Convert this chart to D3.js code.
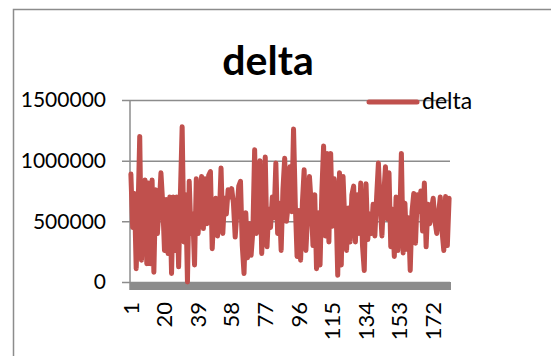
<!DOCTYPE html>
<html>
<head>
<meta charset="utf-8">
<script src="https://cdn.jsdelivr.net/npm/d3@7"></script>
<style>
  body { margin: 0; background: #fff; }
  text { font-family: Lato, "Liberation Sans", sans-serif; fill: #000; }
</style>
</head>
<body>
<script>
// values (thousands)
const deltaK = [
  890, 450, 730, 110, 560, 1200, 180, 620, 840, 150,
  815, 150, 840, 80, 760, 400, 620, 900, 650, 260,
  680, 235, 700, 70, 700, 260, 700, 125, 720, 1280,
  330, 720, 0, 830, 400, 560, 140, 850, 400, 600,
  870, 440, 850, 480, 880, 910, 275, 600, 690, 380,
  520, 940, 400, 690, 560, 760, 700, 770, 650, 370,
  580, 790, 830, 300, 70, 570, 200, 480, 220, 420,
  1090, 400, 700, 1000, 235, 600, 1030, 290, 600, 450,
  700, 530, 980, 400, 650, 260, 760, 1020, 500, 640,
  950, 580, 1260, 640, 210, 590, 180, 650, 925, 260,
  560, 870, 640, 300, 720, 110, 570, 140, 740, 1120,
  380, 1060, 330, 1060, 460, 850, 650, 55, 900, 140,
  870, 500, 260, 610, 330, 720, 790, 330, 720, 400,
  815, 300, 95, 810, 350, 560, 400, 640, 380, 700,
  980, 640, 380, 710, 950, 520, 900, 290, 600, 210,
  700, 260, 450, 1060, 240, 650, 270, 530, 95, 580,
  730, 320, 720, 580, 750, 420, 815, 290, 640, 480,
  600, 690, 500, 400, 560, 700, 420, 260, 705, 300,
  690
];
const categories = deltaK.map((d, i) => i + 1);
const yTicks = [0, 500000, 1000000, 1500000];
const xTickLabels = [1, 20, 39, 58, 77, 96, 115, 134, 153, 172];
const seriesName = "delta";

const data = categories.map((c, i) => ({cat: c, value: deltaK[i] * 1000}));

const width = 551, height = 356;
const svg = d3.select("body").append("svg").attr("width", width).attr("height", height);

const plot = {left: 130, right: 450, top: 100, bottom: 282};
const grey = "#8c8c8c";
const red = "#c0504d";

// outer chart frame (left and top edge visible)
svg.append("path")
   .attr("d", `M13.5,${height} V9.5 H${width}`)
   .attr("fill", "none")
   .attr("stroke", grey)
   .attr("stroke-width", 1.5);

// scales
const xScale = d3.scaleBand().domain(categories).range([plot.left, plot.right]);
const yScale = d3.scaleLinear().domain([0, 1500000]).range([plot.bottom, plot.top]);

// gridlines + y labels
const yAxis = d3.axisLeft(yScale)
                .tickValues(yTicks)
                .tickSize(-(plot.right - plot.left) - 8)
                .tickPadding(16)
                .tickFormat(d3.format("d"));
const gy = svg.append("g")
              .attr("transform", `translate(${plot.right}, 0)`)
              .call(yAxis);
gy.select(".domain").remove();
gy.selectAll(".tick line")
  .attr("x1", 0)
  .attr("x2", -(plot.right - plot.left) - 8)
  .attr("stroke", grey)
  .attr("stroke-width", 1.5);
gy.selectAll(".tick text")
  .attr("x", -(plot.right - plot.left) - 24)
  .attr("font-size", 21)
  .attr("font-family", "Lato, sans-serif")
  .attr("fill", "#000");

// vertical axis line
svg.append("line")
   .attr("x1", plot.left).attr("x2", plot.left)
   .attr("y1", plot.top).attr("y2", plot.bottom + 8)
   .attr("stroke", grey)
   .attr("stroke-width", 1.5);

// thick category axis band
svg.append("rect")
   .attr("x", plot.left)
   .attr("y", plot.bottom)
   .attr("width", plot.right - plot.left + 1)
   .attr("height", 8)
   .attr("fill", grey);

// x labels
const xAxis = d3.axisBottom(xScale).tickValues(xTickLabels).tickSize(0).tickPadding(0);
const gx = svg.append("g")
              .attr("transform", `translate(0, ${plot.bottom + 8})`)
              .call(xAxis);
gx.select(".domain").remove();
gx.selectAll(".tick text")
  .attr("font-size", 22)
  .attr("font-family", "Lato, sans-serif")
  .attr("fill", "#000")
  .attr("text-anchor", "end")
  .attr("dy", "0.35em")
  .attr("transform", "translate(0, 12) rotate(-90)")
  .attr("x", 0)
  .attr("y", 0);

// the series
const lineGenerator = d3.line()
                        .x((d) => xScale(d.cat) + xScale.bandwidth() / 2)
                        .y((d) => yScale(d.value));
svg.append("path")
   .datum(data)
   .attr("fill", "none")
   .attr("stroke", red)
   .attr("stroke-width", 5)
   .attr("stroke-linejoin", "round")
   .attr("stroke-linecap", "round")
   .attr("d", lineGenerator);

// title
svg.append("text")
   .attr("x", 268)
   .attr("y", 75)
   .attr("text-anchor", "middle")
   .attr("font-size", 41)
   .attr("font-weight", "bold")
   .text(seriesName);

// legend
svg.append("line")
   .attr("x1", 369).attr("x2", 417)
   .attr("y1", 102).attr("y2", 102)
   .attr("stroke", red)
   .attr("stroke-width", 5)
   .attr("stroke-linecap", "round");
svg.append("text")
   .attr("x", 422)
   .attr("y", 109)
   .attr("font-size", 23)
   .text(seriesName);
</script>
</body>
</html>
